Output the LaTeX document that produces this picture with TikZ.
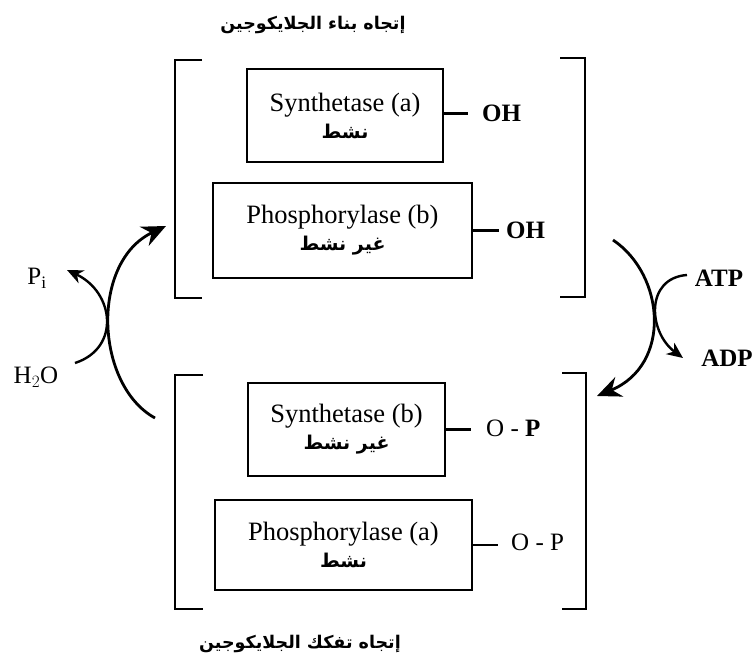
\documentclass[tikz,border=0pt]{standalone}
\usepackage{fontspec}
\setmainfont{Liberation Serif}
\newfontfamily\arabicfont[Script=Arabic]{DejaVu Sans}
\TeXXeTstate=1
\usetikzlibrary{arrows.meta}

\begin{document}
\begin{tikzpicture}[x=1pt,y=-1pt]
\tikzstyle{enzyme}=[draw,rectangle,line width=2.2pt,align=center,inner sep=0pt,font=\fontsize{26.5}{27}\selectfont]
\tikzstyle{group}=[font=\fontsize{25}{28}\selectfont,anchor=west,inner sep=0pt]
\tikzstyle{bracket}=[draw,line width=2.2pt]
\tikzstyle{link}=[draw,line width=2.6pt]
\tikzstyle{cycle}=[draw,line width=2.8pt,-{Stealth[length=24pt,width=21pt,inset=8pt]}]
\tikzstyle{side}=[draw,line width=2.4pt,-{Stealth[length=16pt,width=14pt,inset=5pt]}]
\tikzstyle{title}=[font=\arabicfont\bfseries\fontsize{17.5}{25}\selectfont]
\def \ar #1{{\arabicfont\bfseries\fontsize{19}{22}\selectfont\beginR #1\endR}}
\useasboundingbox (0,0) rectangle (756,661);

% titles
\node[title] (up) at (313,25) {\beginR إتجاه بناء الجلايكوجين\endR};
\node[title] (down) at (300,644) {\beginR إتجاه تفكك الجلايكوجين\endR};

% upper group
\path[bracket] (202,60) -- (175,60) -- (175,298) -- (202,298);
\path[bracket] (560,58) -- (585,58) -- (585,297) -- (560,297);
\node[enzyme,minimum width=196pt,minimum height=93pt] (syna) at (345,115.5) {Synthetase (a)\\\ar{نشط}};
\node[enzyme,minimum width=259pt,minimum height=95pt] (phob) at (342.5,230.5) {Phosphorylase (b)\\\ar{غير نشط}};
\node[group] (oh1) at (482,113) {\textbf{OH}};
\node[group] (oh2) at (506,230) {\textbf{OH}};
\path[link] (syna.east) ++(0,-2) -- ++(24,0);
\path[link] (phob.east) -- ++(26,0);

% lower group
\path[bracket] (203,375) -- (175,375) -- (175,609) -- (203,609);
\path[bracket] (562,373) -- (586,373) -- (586,609) -- (562,609);
\node[enzyme,minimum width=197pt,minimum height=93pt] (synb) at (346.5,429.5) {Synthetase (b)\\\ar{غير نشط}};
\node[enzyme,minimum width=257pt,minimum height=90pt] (phoa) at (343.5,545) {Phosphorylase (a)\\\ar{نشط}};
\node[group] (op1) at (486,428) {O - \textbf{P}};
\node[group] (op2) at (511,542) {O - P};
\path[link] (synb.east) -- ++(25,0);
\path[link] (phoa.east) -- ++(25,0);

% left: dephosphorylation
\coordinate (lfrom) at (155,418);
\coordinate (lto) at (166,226);
\coordinate (wat) at (75,363);
\coordinate (pio) at (67,270);
\path[cycle] (lfrom) .. controls (95,385) and (90,262) .. (lto);
\path[side] (wat) .. controls (121,348) and (114,292) .. (pio);
\node[font=\fontsize{25}{28}\selectfont] (pi) at (37,278) {P$_{\mathrm{i}}$};
\node[font=\fontsize{25}{28}\selectfont] (h2o) at (36,377) {H$_2$O};

% right: phosphorylation
\coordinate (rfrom) at (613,240);
\coordinate (rto) at (597,396);
\coordinate (atpin) at (687,275);
\coordinate (adpout) at (683,358);
\path[cycle] (rfrom) .. controls (665,275) and (672,365) .. (rto);
\path[side] (atpin) .. controls (645,278) and (648,332) .. (adpout);
\node[font=\fontsize{25}{28}\selectfont\bfseries] (atp) at (719,278) {ATP};
\node[font=\fontsize{25}{28}\selectfont\bfseries] (adp) at (727,358) {ADP};
\end{tikzpicture}
\end{document}
